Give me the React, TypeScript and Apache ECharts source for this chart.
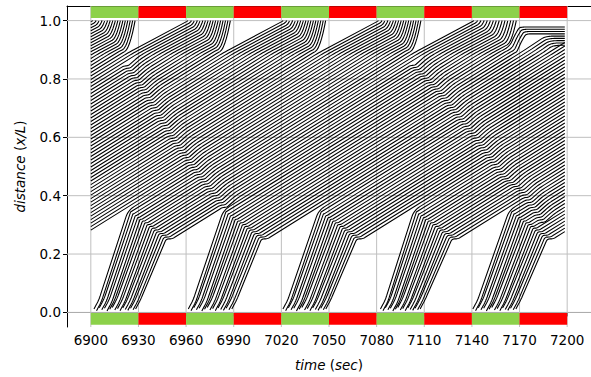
import React, { useEffect, useRef } from 'react';
import * as echarts from 'echarts';

// ---------- axes ----------
const xTicks = [6900, 6930, 6960, 6990, 7020, 7050, 7080, 7110, 7140, 7170, 7200];
const yTicks = [0, 0.2, 0.4, 0.6, 0.8, 1.0];

// ---------- signal phases (same at both ends) ----------
const phaseStart = [6900, 6930, 6960, 6990, 7020, 7050, 7080, 7110, 7140, 7170];
const phaseEnd = [6930, 6960, 6990, 7020, 7050, 7080, 7110, 7140, 7170, 7200];
const phaseColor = ['green', 'red', 'green', 'red', 'green', 'red', 'green', 'red', 'green', 'red'];

// green starts of the downstream signal and the length / drop of each start-up wave at x/L = 1
const topGreenStarts = [6780, 6840, 6900, 6960, 7020, 7080, 7140];
const topWaveLen = [22, 22, 22, 22, 22, 22, 32];
const topWaveDrop = [0.11, 0.11, 0.11, 0.11, 0.11, 0.11, 0.12];

// ---------- vehicle platoons released at x/L = 0 (entry times, s) ----------
const platoonGreen = [6660, 6720, 6780, 6840, 6900, 6960, 7020, 7080, 7140];
const entries6900 = [6902.0, 6903.6, 6905.3, 6906.9, 6908.6, 6910.2, 6911.9, 6913.5, 6915.1, 6916.8, 6918.4, 6920.1, 6921.7, 6923.3, 6925.0, 6926.6, 6928.2];
const entries6960 = [6961.4, 6963.1, 6964.8, 6966.5, 6968.2, 6969.9, 6971.6, 6973.3, 6975.0, 6976.7, 6978.4, 6980.1, 6981.8, 6983.5, 6985.2, 6987.0, 6988.8];
const entries7020 = [7021.0, 7022.7, 7024.4, 7026.1, 7027.8, 7029.5, 7031.2, 7032.9, 7034.6, 7036.3, 7038.0, 7039.7, 7041.4, 7043.1, 7044.8, 7046.4, 7048.0];
const entries7080 = [7082.4, 7084.0, 7085.5, 7087.1, 7088.6, 7090.2, 7091.8, 7093.3, 7094.9, 7096.4, 7098.0, 7099.6, 7101.1, 7102.7, 7104.2, 7105.8, 7107.4];
const entries7140 = [7140.6, 7142.3, 7144.0, 7145.7, 7147.4, 7149.1, 7150.8, 7152.5, 7154.2, 7155.9, 7157.6, 7159.3, 7161.0, 7162.6, 7164.3, 7166.0, 7167.7];
// entry positions (x/L) of the vehicles in a platoon
const entryHeights = [0.012, 0.006, 0.016, 0.009, 0.014, 0.005, 0.011, 0.017, 0.008, 0.013, 0.006, 0.015, 0.010, 0.007, 0.014, 0.009, 0.012];

// backward slow-down waves visible as dark diagonals (t, x/L)
const wave1T = [6900, 6931, 6950, 6968, 6990];
const wave1X = [1.0, 0.767, 0.596, 0.46, 0.31];
const wave2T = [7073, 7093, 7118, 7141, 7159, 7170, 7184];
const wave2X = [1.0, 0.89, 0.755, 0.596, 0.46, 0.416, 0.3];

// ---------- trajectory shape parameters ----------
const VB = 0.0034; // congested band speed (x/L per s)
const BAND_BASE = 0.282; // band position of a platoon's last car one cycle after its green
const BEND_FIRST_T = 23.5; // first car joins the band (s after green)
const BEND_LAST_T = 47.5; // last car joins the band (s after green)
const BEND_LAST_X = 0.252;
const X_APPROACH = 0.89; // start of the approach zone
const VS = 0.0029; // approach speed near the stop line
const ACC = 0.004; // discharge acceleration
const LAST_CUTOFF = 7168.5;
const QUEUE_TOP = 0.978;
const QUEUE_GAP = 0.0078;
const DIP = 3.0; // duration of the slow-down at a wave (s)

const GREEN = '#8cd14a';
const RED = '#ff0000';
const FONT = 'DejaVu Sans';

type Pt = [number, number];

function clip(pts: Pt[], a: number, b: number): Pt[] {
  const out: Pt[] = [];
  const push = (p: Pt) => {
    const l = out[out.length - 1];
    if (!l || Math.abs(l[0] - p[0]) > 1e-9 || Math.abs(l[1] - p[1]) > 1e-9) out.push(p);
  };
  for (let j = 0; j < pts.length - 1; j++) {
    const [t0, x0] = pts[j];
    const [t1, x1] = pts[j + 1];
    if (t1 < a || t0 > b) continue;
    const at = (t: number) => (t1 === t0 ? x0 : x0 + ((x1 - x0) * (t - t0)) / (t1 - t0));
    const s = Math.max(t0, a);
    const e = Math.min(t1, b);
    push([s, at(s)]);
    push([e, at(e)]);
  }
  return out;
}

// round the corners of a polyline (in screen-like units) so bends look continuous
const SX = 1.603;
const SY = 294.5;
function roundCorners(pts: Pt[], r: number): Pt[] {
  if (pts.length < 3) return pts;
  const P = pts.map(([t, x]) => [t * SX, x * SY]);
  const out: number[][] = [P[0]];
  for (let j = 1; j < P.length - 1; j++) {
    const a = P[j - 1];
    const b = P[j];
    const c = P[j + 1];
    const l1 = Math.hypot(b[0] - a[0], b[1] - a[1]);
    const l2 = Math.hypot(c[0] - b[0], c[1] - b[1]);
    const d = Math.min(r, 0.45 * l1, 0.45 * l2);
    if (d < 0.4 || l1 === 0 || l2 === 0) {
      out.push(b);
      continue;
    }
    const p1 = [b[0] + ((a[0] - b[0]) * d) / l1, b[1] + ((a[1] - b[1]) * d) / l1];
    const p2 = [b[0] + ((c[0] - b[0]) * d) / l2, b[1] + ((c[1] - b[1]) * d) / l2];
    for (let k = 0; k <= 6; k++) {
      const u = k / 6;
      out.push([
        (1 - u) * (1 - u) * p1[0] + 2 * u * (1 - u) * b[0] + u * u * p2[0],
        (1 - u) * (1 - u) * p1[1] + 2 * u * (1 - u) * b[1] + u * u * p2[1],
      ]);
    }
  }
  out.push(P[P.length - 1]);
  return out.map(([a, b]) => [a / SX, b / SY] as Pt);
}

// time where a band path x = x0 + VB (t - t0) meets a wave polyline
function waveCrossing(t0: number, x0: number, wt: number[], wx: number[]): number | null {
  for (let j = 0; j < wt.length - 1; j++) {
    const ta = wt[j];
    const tb = wt[j + 1];
    const xa = wx[j];
    const xb = wx[j + 1];
    const ws = (xb - xa) / (tb - ta);
    const t = (xa - ws * ta - x0 + VB * t0) / (VB - ws);
    if (t >= ta && t <= tb) return t;
  }
  return null;
}

function buildTrajectories(): Pt[][] {
  const platoonEntries: Record<number, number[]> = {
    6900: entries6900,
    6960: entries6960,
    7020: entries7020,
    7080: entries7080,
    7140: entries7140,
  };
  const vehicles: { pts: Pt[]; T: number }[] = [];
  platoonGreen.forEach((G) => {
    const entries = platoonEntries[G] || entries6900.map((e) => e - 6900 + G);
    const N = entries.length;
    const h = 60 / N;
    const xB0 = BAND_BASE + VB * (BEND_FIRST_T - h);
    entries.forEach((e, i) => {
      const s = i / (N - 1);
      const band = (t: number) => BAND_BASE + VB * (t - G - 60 + (N - 1 - i) * h);
      const x0 = entryHeights[i % entryHeights.length];
      const tB = G + BEND_FIRST_T + s * (BEND_LAST_T - BEND_FIRST_T);
      const xB = xB0 + s * (BEND_LAST_X - xB0);
      const pts: Pt[] = [[e, x0], [e + 3, x0 + 0.03], [tB, xB]];
      let t0 = tB;
      let xx = xB;
      const bx = band(tB);
      if (bx < xB) {
        t0 = tB + (xB - bx) / VB;
        pts.push([t0, xB]);
      } else xx = bx;
      const T = t0 + (X_APPROACH - xx) / VB;
      // slow-down waves crossed while in the band: brief dip, then catch up
      const crossings: number[] = [];
      [[wave1T, wave1X], [wave2T, wave2X]].forEach(([wt, wx]) => {
        const c = waveCrossing(t0, xx, wt, wx);
        if (c !== null && c > t0 + 2 && c + 3 * DIP < T - 2) crossings.push(c);
      });
      crossings.sort((a, b) => a - b);
      crossings.forEach((c) => {
        const xc = xx + VB * (c - t0);
        pts.push([c, xc]);
        pts.push([c + DIP, xc + VB * 0.1 * DIP]);
        pts.push([c + 3 * DIP, xc + VB * 3 * DIP]);
      });
      pts.push([T, X_APPROACH]);
      vehicles.push({ pts, T });
    });
  });
  vehicles.sort((a, b) => a.T - b.T);
  const lastK = topGreenStarts.length - 1;
  let q = 0;
  const out: Pt[][] = [];
  vehicles.forEach((v) => {
    const T = v.T;
    let pts = v.pts;
    const k = topGreenStarts.findIndex(
      (g, j) => g + ((1 - X_APPROACH) * topWaveLen[j]) / topWaveDrop[j] >= T && g - 38 <= T,
    );
    const tail: Pt[] = [];
    if (k >= 0) {
      const Gk = topGreenStarts[k];
      const w = topWaveDrop[k] / topWaveLen[k];
      const ts = (1 - X_APPROACH + VS * T + w * Gk) / (VS + w);
      const xs = Math.min(0.999, X_APPROACH + VS * (ts - T));
      pts.push([ts, xs]);
      const te = (-VS + Math.sqrt(VS * VS + 2 * ACC * (1 - xs))) / ACC;
      if (k === lastK && ts + te > LAST_CUTOFF) {
        const slot = QUEUE_TOP - q * QUEUE_GAP;
        q++;
        const d = Math.max(0.004, slot - xs);
        const tr = ts + d / 0.011;
        pts.push([ts + d / 0.02, xs + d * 0.6]);
        pts.push([tr, slot - 0.002]);
        pts.push([tr + 2.5, slot]);
        pts.push([7205, slot]);
      } else {
        for (let j = 1; j < te; j++) tail.push([ts + j, xs + VS * j + 0.5 * ACC * j * j]);
        tail.push([ts + te, 1.0]);
      }
    } else if (T < 7198) {
      const slot = QUEUE_TOP - q * QUEUE_GAP;
      q++;
      if (slot > X_APPROACH + 0.02) {
        const tr = T + (slot - X_APPROACH) / VB;
        pts.push([tr - 2, slot - 0.004]);
        pts.push([tr + 2, slot]);
        pts.push([Math.max(7205, tr + 3), slot]);
      } else {
        pts.push([T + 60, X_APPROACH + VB * 60]);
      }
    } else {
      pts.push([T + 60, X_APPROACH + VB * 60]);
    }
    pts = roundCorners(pts, 7);
    const full = pts.concat(tail);
    const c = clip(full, 6900, 7198.5);
    if (c.length > 1) out.push(c);
  });
  return out;
}

export default function App() {
  const ref = useRef<HTMLDivElement>(null);
  useEffect(() => {
    if (!ref.current) return;
    const chart = echarts.init(ref.current, undefined, { renderer: 'svg' });
    const trajs = buildTrajectories();
    const lineSeries = trajs.map((d) => ({
      type: 'line',
      data: d,
      showSymbol: false,
      symbol: 'none',
      silent: true,
      lineStyle: { color: '#000', width: 1.1 },
      z: 3,
      animation: false,
    }));
    const gridColor = '#bfbfbf';
    const italic = { fontStyle: 'italic', fontSize: 13.5, fontFamily: FONT, color: '#000' };
    const option: any = {
      animation: false,
      grid: { left: 67, top: 6, right: -5, bottom: 47, containLabel: false },
      xAxis: [
        {
          type: 'value',
          min: 6885,
          max: 7215,
          axisLine: { show: true, lineStyle: { color: '#000', width: 1 } },
          axisTick: { show: true, customValues: xTicks, length: 4, lineStyle: { color: '#000' } },
          axisLabel: {
            customValues: xTicks,
            color: '#000',
            fontSize: 13.5,
            fontFamily: FONT,
            margin: 6,
            formatter: (v: number) => String(Math.round(v)),
          },
          splitLine: { show: false },
          name: '{i|time} ({i|sec})',
          nameLocation: 'middle',
          nameGap: 31,
          nameTextStyle: { color: '#000', fontSize: 13.5, fontFamily: FONT, rich: { i: italic } },
        },
        {
          type: 'value',
          position: 'top',
          min: 6885,
          max: 7215,
          axisLine: { show: true, lineStyle: { color: '#000', width: 1 } },
          axisTick: { show: false },
          axisLabel: { show: false },
          splitLine: { show: false },
        },
      ],
      yAxis: {
        type: 'value',
        min: -0.05,
        max: 1.05,
        axisLine: { show: true, lineStyle: { color: '#000', width: 1 } },
        axisTick: { show: true, customValues: yTicks, length: 4, lineStyle: { color: '#000' } },
        axisLabel: {
          customValues: yTicks,
          color: '#000',
          fontSize: 13.5,
          fontFamily: FONT,
          margin: 6,
          formatter: (v: number) => v.toFixed(1),
        },
        splitLine: { show: false },
        name: '{i|distance} ({i|x/L})',
        nameLocation: 'middle',
        nameGap: 40,
        nameRotate: 90,
        nameTextStyle: { color: '#000', fontSize: 13.5, fontFamily: FONT, rich: { i: italic } },
      },
      series: [
        {
          type: 'custom',
          silent: true,
          z: 1,
          data: xTicks.map((v) => [v, 0]),
          encode: { x: 0, y: 1 },
          renderItem: (_p: any, api: any) => {
            const v = api.value(0);
            const a = api.coord([v, -0.05]);
            const b = api.coord([v, 1.05]);
            return { type: 'line', shape: { x1: a[0], y1: a[1], x2: b[0], y2: b[1] }, style: { stroke: gridColor, lineWidth: 1 } };
          },
        },
        {
          type: 'custom',
          silent: true,
          z: 1,
          data: yTicks.map((v) => [6900, v]),
          encode: { x: 0, y: 1 },
          renderItem: (_p: any, api: any) => {
            const v = api.value(1);
            const a = api.coord([6885, v]);
            const b = api.coord([7215, v]);
            return { type: 'line', shape: { x1: a[0], y1: a[1], x2: b[0], y2: b[1] }, style: { stroke: gridColor, lineWidth: 1 } };
          },
        },
        ...lineSeries,
        {
          type: 'custom',
          silent: true,
          z: 5,
          data: phaseStart.map((s, i) => [s, phaseEnd[i], phaseColor[i] === 'green' ? 0 : 1]),
          encode: { x: [0, 1] },
          renderItem: (_p: any, api: any) => {
            const s = api.value(0);
            const e = api.value(1);
            const fill = api.value(2) === 0 ? GREEN : RED;
            const children = [
              [1.009, 1.049],
              [-0.042, -0.002],
            ].map(([y0, y1]) => {
              const p0 = api.coord([s, y1]);
              const p1 = api.coord([e, y0]);
              return {
                type: 'rect',
                shape: { x: p0[0], y: p0[1], width: p1[0] - p0[0], height: p1[1] - p0[1] },
                style: { fill },
              };
            });
            return { type: 'group', children };
          },
        },
      ],
    };
    chart.setOption(option);
    return () => chart.dispose();
  }, []);
  return <div ref={ref} style={{ position: 'absolute', left: 0, top: 0, width: 591, height: 377 }} />;
}
